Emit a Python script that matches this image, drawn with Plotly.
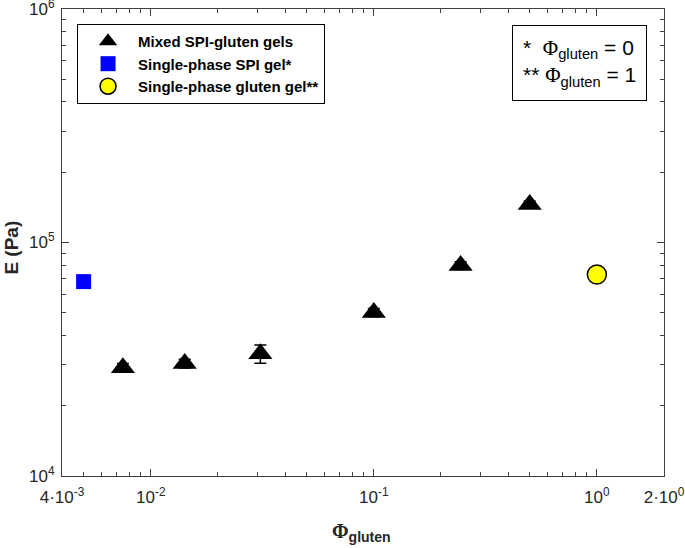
import plotly.graph_objects as go

# Mixed SPI-gluten gels
phi_mixed = [0.0075, 0.0142, 0.031, 0.1, 0.245, 0.5]
e_mixed = [29100, 30300, 33400, 50100, 79700, 145500]
e_mixed_err = [1200, 1300, 3000, 2000, 3000, 5000]

# single-phase gels
phi_spi = [0.005]
e_spi = [68000]
phi_gluten = [1.0]
e_gluten = [72900]

x_tickvals = [0.004, 0.01, 0.1, 1, 2]
x_ticktext = ["4·10<sup>-3</sup>", "10<sup>-2</sup>", "10<sup>-1</sup>",
              "10<sup>0</sup>", "2·10<sup>0</sup>"]
x_minor = [0.005, 0.006, 0.007, 0.008, 0.009,
           0.02, 0.03, 0.04, 0.05, 0.06, 0.07, 0.08, 0.09,
           0.2, 0.3, 0.4, 0.5, 0.6, 0.7, 0.8, 0.9]
y_tickvals = [1e4, 1e5, 1e6]
y_ticktext = ["10<sup>4</sup>", "10<sup>5</sup>", "10<sup>6</sup>"]
y_minor = [2e4, 3e4, 4e4, 5e4, 6e4, 7e4, 8e4, 9e4,
           2e5, 3e5, 4e5, 5e5, 6e5, 7e5, 8e5, 9e5]

FONT = "Arial, Liberation Sans, Helvetica, sans-serif"
AXIS = "#404040"
TXT = "#262626"
PHI = '<span style="font-family:Liberation Serif, Times New Roman, serif">Φ</span>'

fig = go.Figure()
fig.add_trace(go.Scatter(
    x=phi_mixed, y=e_mixed, mode="markers", name="Mixed SPI-gluten gels",
    marker=dict(symbol="triangle-up", size=21, color="black"),
    error_y=dict(type="data", array=e_mixed_err, color="black",
                 thickness=1.5, width=6),
))
fig.add_trace(go.Scatter(
    x=phi_spi, y=e_spi, mode="markers", name="Single-phase SPI gel*",
    marker=dict(symbol="square", size=15, color="#0000ff"),
))
fig.add_trace(go.Scatter(
    x=phi_gluten, y=e_gluten, mode="markers", name="Single-phase gluten gel**",
    marker=dict(symbol="circle", size=19, color="#ffff00",
                line=dict(color="black", width=1.5)),
))

# footnote box
fig.add_annotation(
    xref="paper", yref="paper", x=0.7475, y=0.966,
    xanchor="left", yanchor="top", align="left", showarrow=False,
    text=f"*  {PHI}<sub>gluten</sub> = 0<br>** {PHI}<sub>gluten</sub> = 1",
    font=dict(family=FONT, size=21, color="black"),
    bordercolor="black", borderwidth=1, borderpad=10, bgcolor="white",
)
# axis titles
fig.add_annotation(
    xref="paper", yref="paper", x=-0.084, y=0.49, xanchor="center",
    yanchor="middle", textangle=-90, showarrow=False, text="<b>E (Pa)</b>",
    font=dict(family=FONT, size=19, color=TXT),
)
fig.add_annotation(
    xref="paper", yref="paper", x=0.4975, y=-0.122, yanchor="middle",
    showarrow=False, text=f"<b>{PHI}<sub>gluten</sub></b>",
    font=dict(family=FONT, size=20, color=TXT),
)

fig.update_layout(
    width=685, height=548,
    margin=dict(l=62, r=21, t=9, b=72, autoexpand=False),
    plot_bgcolor="white", paper_bgcolor="white",
    font=dict(family=FONT, size=16, color=TXT),
    showlegend=True,
    legend=dict(
        x=0.025, y=0.968, xanchor="left", yanchor="top",
        bordercolor="black", borderwidth=1, bgcolor="white",
        font=dict(family=FONT, size=15, color="black", weight="bold"),
        tracegroupgap=0, itemsizing="trace", itemwidth=50,
    ),
)
fig.update_xaxes(
    type="log", range=[-2.39794, 0.30103], automargin=False,
    tickvals=x_tickvals, ticktext=x_ticktext, ticklabeloverflow="allow",
    ticklabelstandoff=6,
    ticks="inside", ticklen=7, tickcolor=AXIS, tickwidth=1,
    minor=dict(tickvals=x_minor, ticks="inside", ticklen=4, tickcolor=AXIS),
    showline=True, linecolor=AXIS, linewidth=1, mirror="ticks",
    showgrid=False, zeroline=False,
    tickfont=dict(size=17, color=TXT),
)
fig.update_yaxes(
    type="log", range=[4, 6], automargin=False,
    tickvals=y_tickvals, ticktext=y_ticktext, ticklabeloverflow="allow",
    ticklabelstandoff=3,
    ticks="inside", ticklen=7, tickcolor=AXIS, tickwidth=1,
    minor=dict(tickvals=y_minor, ticks="inside", ticklen=4, tickcolor=AXIS),
    showline=True, linecolor=AXIS, linewidth=1, mirror="ticks",
    showgrid=False, zeroline=False,
    tickfont=dict(size=17, color=TXT),
)

# drop the default page margin so the 685x548 figure fills the window
fig.write_html("out.html", config={"displayModeBar": False},
               post_script="document.body.style.margin='0';")
